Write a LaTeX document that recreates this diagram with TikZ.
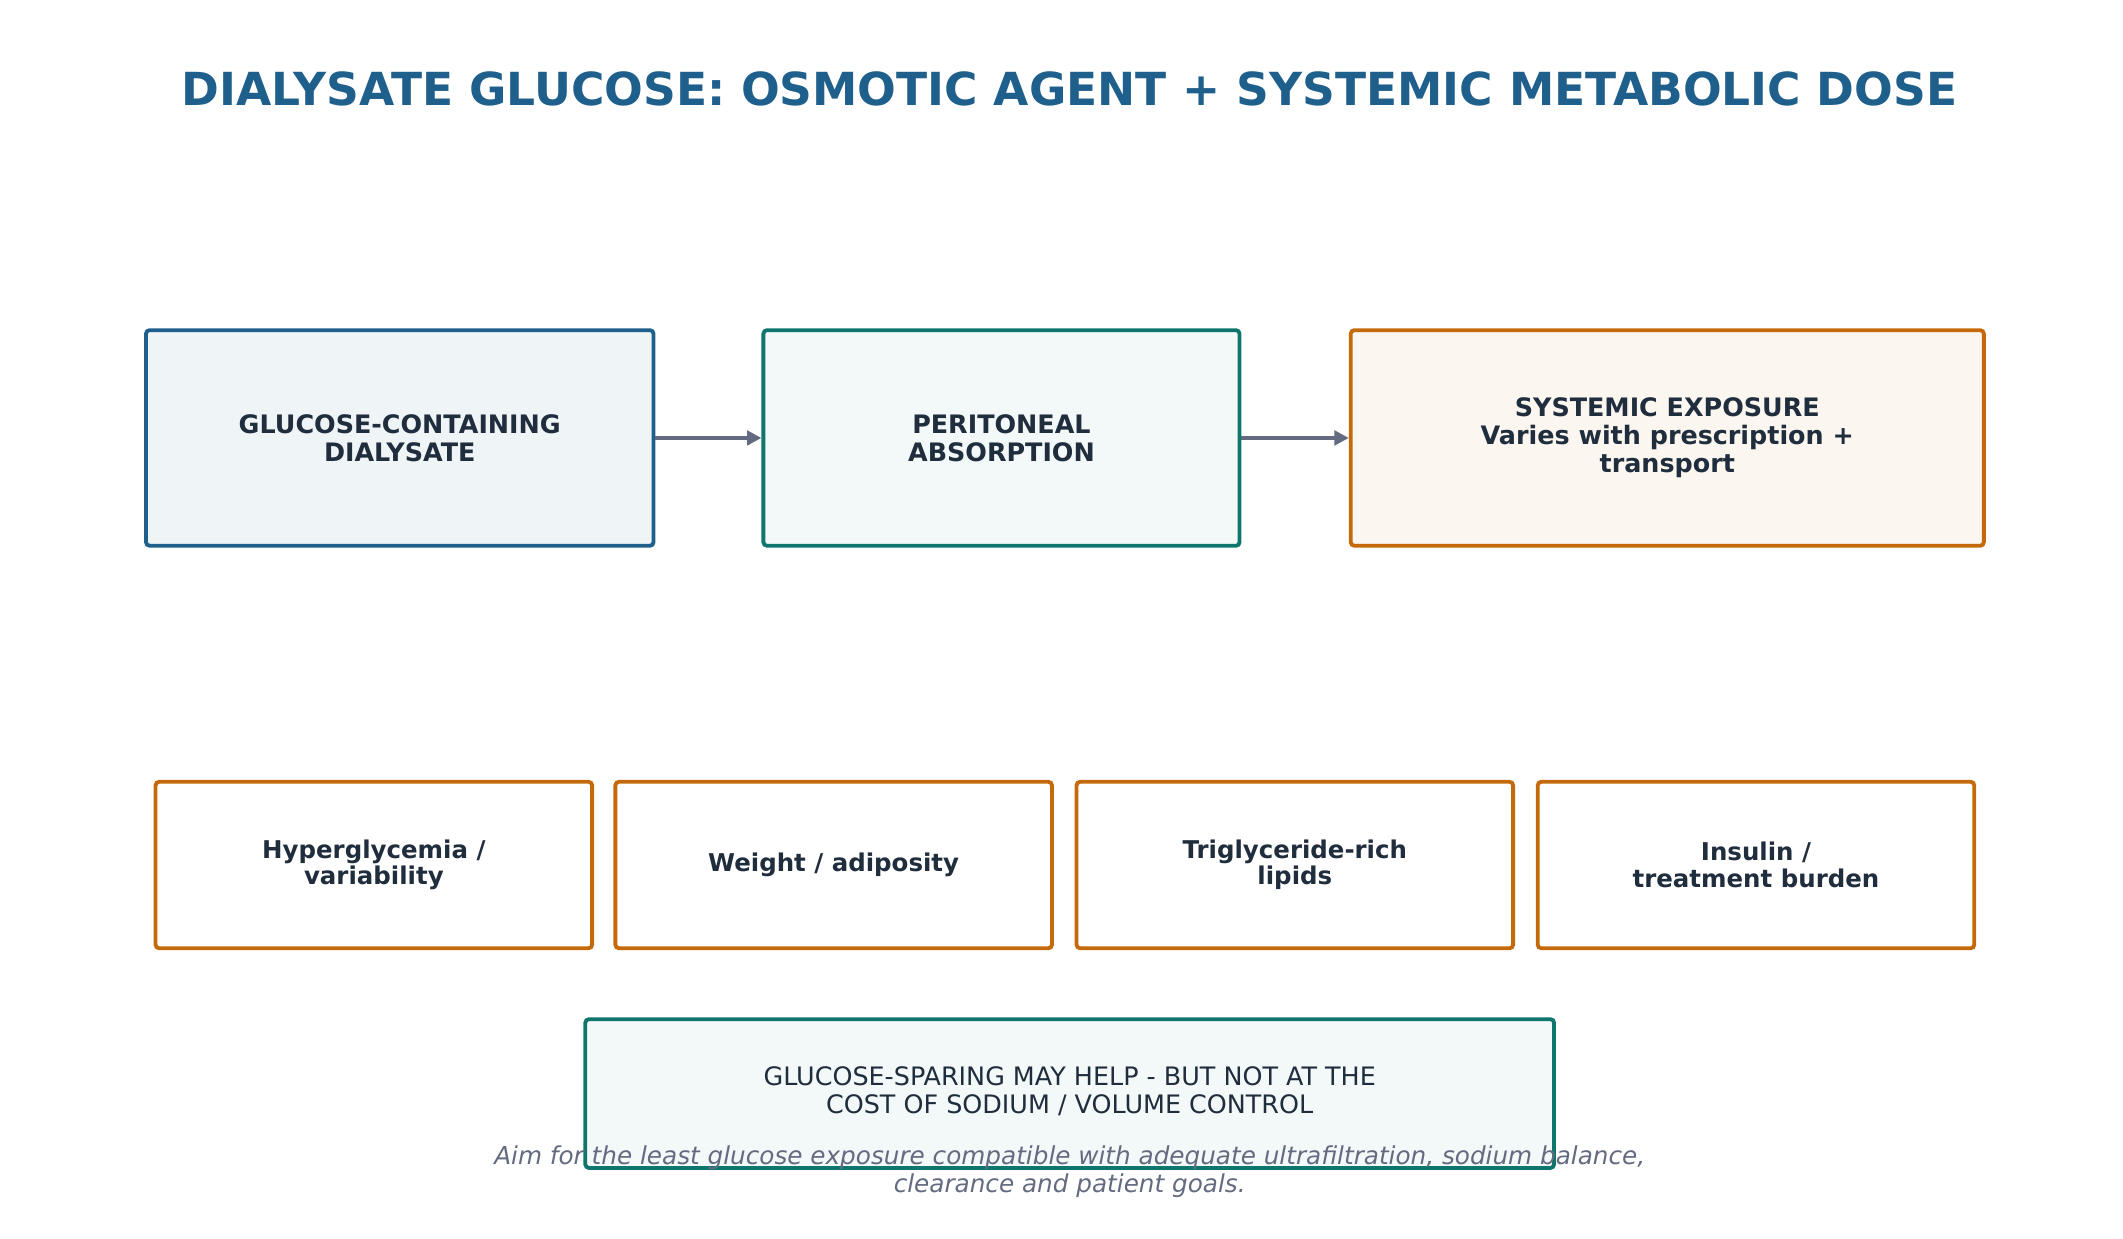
\documentclass[tikz,border=0pt]{standalone}
\usepackage{fontspec}
\setmainfont{DejaVu Sans}
\usetikzlibrary{arrows.meta}
\definecolor{navy}{HTML}{1E5F8C}
\definecolor{teal}{HTML}{0F766E}
\definecolor{amber}{HTML}{C46A0A}
\definecolor{ink}{HTML}{1F2D3D}
\definecolor{slate}{HTML}{646B80}
\tikzset{
every picture/.style={
line width=1.4pt
}}
\begin{document}
\begin{tikzpicture}[x=0.02cm, y=-0.02cm,
block/.style = {rectangle, rounded corners=1.5pt, line width=1.6pt, align=center, text=ink, font=\bfseries\fontsize{10.6}{11.6}\selectfont},
effect/.style = {block, draw=amber, fill=white, minimum width=320*0.02cm, minimum height=122*0.02cm, font=\bfseries\fontsize{10.2}{11}\selectfont},
flow/.style = {slate, line width=1.6pt, -{Triangle[length=6pt,width=6pt]}}]

\useasboundingbox (0,0) rectangle (1556,908);

\node[font=\bfseries\fontsize{19}{22}\selectfont, text=navy] (title) at (784,65) {DIALYSATE GLUCOSE: OSMOTIC AGENT + SYSTEMIC METABOLIC DOSE};

\node[block, draw=navy, fill=navy!7, minimum width=372*0.02cm, minimum height=158*0.02cm] (dial) at (293,321) {GLUCOSE-CONTAINING\\DIALYSATE};
\node[block, draw=teal, fill=teal!5, minimum width=349*0.02cm, minimum height=158*0.02cm] (absorb) at (734,321) {PERITONEAL\\ABSORPTION};
\node[block, draw=amber, fill=amber!6, minimum width=464*0.02cm, minimum height=158*0.02cm] (expo) at (1222,321) {SYSTEMIC EXPOSURE\\Varies with prescription +\\transport};

\draw[flow] (dial) -- (absorb);
\draw[flow] (absorb) -- (expo);

\node[effect] (glyc) at (274,634) {Hyperglycemia /\\variability};
\node[effect] (weight) at (611,634) {Weight / adiposity};
\node[effect] (lipid) at (949,634) {Triglyceride-rich\\lipids};
\node[effect] (insulin) at (1287,634) {Insulin /\\treatment burden};

\node[block, draw=teal, fill=teal!5, minimum width=710*0.02cm, minimum height=109*0.02cm] (spare) at (784,801.5) {};
\node[text=ink, align=center, font=\fontsize{10.6}{11.6}\selectfont] (sparetxt) at (784,800) {GLUCOSE-SPARING MAY HELP - BUT NOT AT THE\\COST OF SODIUM / VOLUME CONTROL};

\node[text=slate, align=center, font=\itshape\fontsize{10.3}{11.6}\selectfont] (note) at (784,859) {Aim for the least glucose exposure compatible with adequate ultrafiltration, sodium balance,\\clearance and patient goals.};
\end{tikzpicture}
\end{document}
